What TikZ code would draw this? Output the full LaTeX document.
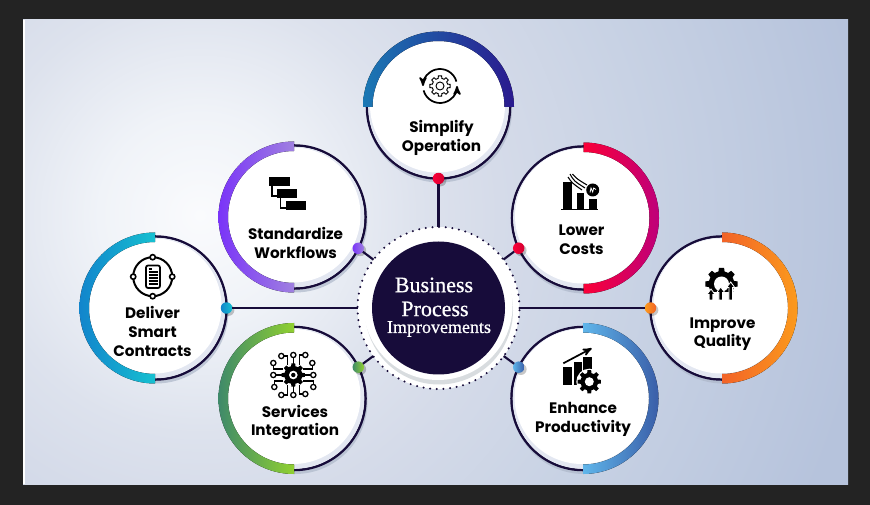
\documentclass[tikz,border=0pt]{standalone}
\usepackage{fontspec}
\usepackage{tikz}
\usetikzlibrary{arrows,shadows}
\newfontfamily\ringfont{Poppins}
\newfontfamily\hubfont[FakeBold=0.7]{Liberation Serif}
\definecolor{framegray}{HTML}{232323}
\definecolor{inkblue}{HTML}{170C3A}
\definecolor{paleface}{HTML}{E3E7F1}
\definecolor{ringshade}{HTML}{AEB8CA}
\definecolor{hubshade}{HTML}{D8DCDF}
\definecolor{glowa}{HTML}{FAFBFD}
\definecolor{glowb}{HTML}{F0F3F8}
\definecolor{glowc}{HTML}{DDE2ED}
\definecolor{glowd}{HTML}{D5DBE9}
\definecolor{glowe}{HTML}{C8D2E4}
\definecolor{glowf}{HTML}{B6C3DC}
\definecolor{simplifya}{HTML}{1A78B4}
\definecolor{simplifyb}{HTML}{2A1A8E}
\definecolor{costsa}{HTML}{FA0038}
\definecolor{costsb}{HTML}{BE007A}
\definecolor{qualitya}{HTML}{F26328}
\definecolor{qualityb}{HTML}{FB9A1C}
\definecolor{enhancea}{HTML}{5FB5EA}
\definecolor{enhanceb}{HTML}{3A5EA8}
\definecolor{workflowsa}{HTML}{7A35F8}
\definecolor{workflowsb}{HTML}{9F80E0}
\definecolor{contractsa}{HTML}{1285CC}
\definecolor{contractsb}{HTML}{16C0D0}
\definecolor{servicesa}{HTML}{3F8A6A}
\definecolor{servicesb}{HTML}{90D030}
\pgfdeclareradialshading{panelglow}{\pgfpoint{0bp}{0bp}}{
	color(0bp)=(glowa); color(3.5bp)=(glowb); color(7.6bp)=(glowc);
	color(10.4bp)=(glowd); color(15.5bp)=(glowe); color(23.3bp)=(glowf); color(50bp)=(glowf)}
\newcommand{\ringnode}[5]{
	\fill[ringshade,opacity=.7] #2 ++(1,3) circle (72.5);
	\node [ringdisc] (#1) at #2 {};
	\fill[paleface] #2 circle (70.3);
	\fill[white] #2 ++(-1,-2) circle (67.5);
	\fill[left color=#4,right color=#5] (#1.center) ++(#3:75.5) arc[start angle=#3,delta angle=180,radius=75.5] -- ++(#3:9.5) arc[start angle=#3+180,delta angle=-180,radius=66] -- cycle;
}
\newcommand{\gearpath}[4]{
	\path[#1,shift={#2}] (-22.5:#3) \foreach \a in {0,45,...,315} { -- (\a-14:#3) -- (\a-9:#4) -- (\a+9:#4) -- (\a+14:#3) -- (\a+22.5:#3)} -- cycle;
}
\begin{document}
\begin{tikzpicture}[x=0.75pt,y=-0.75pt,>=stealth']
		\tikzstyle{ringdisc}=[circle, draw=inkblue, fill=white, line width=1.9pt, minimum size=107.25pt, inner sep=0pt, outer sep=0pt]
		\tikzstyle{hubdisc}=[circle, draw=inkblue, fill=white, line width=1.7pt, line cap=round, dash pattern=on 0pt off 5pt, minimum size=121.5pt, inner sep=0pt, outer sep=0pt]
		\tikzstyle{ringdot}=[circle, minimum size=8.6pt, inner sep=0pt, outer sep=0pt, drop shadow={shadow xshift=1.6pt,shadow yshift=-1.6pt,fill=black,opacity=.22}]
		\tikzstyle{ringlabel}=[align=center, text=black, font=\ringfont\bfseries\fontsize{11.4}{13.9}\selectfont]
		\tikzstyle{hubtext}=[text=white, font=\hubfont\fontsize{16.5}{18}\selectfont]
		\tikzstyle{hubline}=[draw=inkblue, line width=1.6pt]
		\tikzstyle{iconline}=[draw=black, line width=1.3pt]
		\tikzstyle{iconthin}=[draw=black, line width=1pt]

		\fill[framegray] (0,0) rectangle (870,505);
		\begin{scope}
			\clip (23,20) rectangle (848,484);
			\shade[shading=panelglow] (200,215) circle (720);
			\fill[white] (23,20) rectangle (24.5,484);
		\end{scope}

		\node [hubdisc] (hub) at (438.5,308) {};
		\fill[hubshade] (439,310.5) circle (74);
		\fill[white] (438,305.5) circle (74.5);
		\node [circle, fill=inkblue, minimum size=99.75pt, inner sep=0pt] (hubcore) at (438.5,308) {};
		\node [hubtext] (hubone) at (434,285) {Business};
		\node [hubtext] (hubtwo) at (435,309) {Process};
		\node [hubtext, font=\hubfont\fontsize{13.5}{15}\selectfont] (hubthree) at (439,329) {Improvements};

		\ringnode{simplify}{(438.5,107)}{180}{simplifya}{simplifyb}
		\ringnode{costs}{(583.5,218)}{-90}{costsa}{costsb}
		\ringnode{quality}{(722,308)}{-90}{qualitya}{qualityb}
		\ringnode{enhance}{(583,398.5)}{-90}{enhancea}{enhanceb}
		\ringnode{workflows}{(294,217)}{90}{workflowsa}{workflowsb}
		\ringnode{contracts}{(155,308)}{90}{contractsa}{contractsb}
		\ringnode{services}{(294,398.5)}{90}{servicesa}{servicesb}

		\node [ringdot, left color=costsa, right color=costsa!85!black] (simplifydot) at (simplify.south) {};
		\node [ringdot, left color=costsa, right color=costsa!85!black] (costsdot) at (costs.205) {};
		\node [ringdot, left color=qualityb, right color=qualitya] (qualitydot) at (quality.west) {};
		\node [ringdot, left color=enhancea, right color=enhanceb] (enhancedot) at (enhance.154) {};
		\node [ringdot, left color=workflowsa, right color=workflowsb] (workflowsdot) at (workflows.-26) {};
		\node [ringdot, left color=contractsa, right color=contractsb] (contractsdot) at (contracts.east) {};
		\node [ringdot, left color=servicesa, right color=servicesb] (servicesdot) at (services.26) {};

		\foreach \d in {simplifydot,costsdot,qualitydot,enhancedot,workflowsdot,contractsdot,servicesdot}
			\draw[hubline] (\d) -- (hub);

		\node [ringlabel] (simplifytext) at (441.5,138) {Simplify\\Operation};
		\node [ringlabel] (coststext) at (581.5,239.5) {Lower\\Costs};
		\node [ringlabel] (qualitytext) at (722.5,334) {Improve\\Quality};
		\node [ringlabel] (enhancetext) at (583,419.5) {Enhance\\Productivity};
		\node [ringlabel] (workflowstext) at (295.5,243) {Standardize\\Workflows};
		\node [ringlabel] (contractstext) at (152.5,331.5) {Deliver\\Smart\\Contracts};
		\node [ringlabel] (servicestext) at (295,422.5) {Services\\Integration};

		\draw[iconline,->] (440,86) ++(-15:17) arc[start angle=-15,delta angle=-165,radius=17];
		\draw[iconline,->] (440,86) ++(165:17) arc[start angle=165,delta angle=-165,radius=17];
		\gearpath{draw=black,line width=.7pt,fill=white}{(440,86)}{7.8}{10.2}
		\draw[iconthin,line width=.7pt] (440,86) circle (4);

		\fill (563.3,182) rectangle (571.7,209.3);
		\fill (576.7,193.3) rectangle (584,209.3);
		\fill (588.7,199) rectangle (596.7,209.3);
		\draw[iconline] (561.3,209.5) -- (598.3,209.5);
		\draw[iconthin,line width=.8pt] (570,174) .. controls (574,181) .. (585,188);
		\draw[iconthin,line width=.8pt] (572.5,174) .. controls (577,179) .. (587,185);
		\draw[iconthin,line width=.8pt] (568,177) .. controls (572,183) .. (582,190);
		\fill (592.7,190) circle (6.5);
		\draw[draw=white,line width=.6pt] (590,192.5) -- (591,188) -- (592.7,192) -- (593.7,188) -- (596,189.5);

		\gearpath{fill=black}{(721.5,284)}{12.8}{16.3}
		\fill[white] (721.5,284) circle (7.5);
		\fill[white] (702,292) rectangle (742,303);
		\foreach \x/\t in {711/289,720.7/287,730.7/282}
			\filldraw[draw=white,fill=black,line width=.6pt] (\x-1.8,300) -- (\x-1.8,\t+5.5) -- (\x-4,\t+5.5) -- (\x,\t) -- (\x+4,\t+5.5) -- (\x+1.8,\t+5.5) -- (\x+1.8,300) -- cycle;

		\fill (563.3,366.7) rectangle (571.7,385);
		\fill (574,361.7) rectangle (581.7,385);
		\fill (583.3,356.7) rectangle (591.7,376);
		\draw[iconline,->] (563.3,363.3) -- (591.7,348.3);
		\fill[white] (589.3,381.7) circle (13);
		\gearpath{fill=black}{(589.3,381.7)}{8.8}{11.8}
		\fill[white] (589.3,381.7) circle (4.5);

		\draw[iconthin] (272,186) |- (276.7,196);
		\draw[iconthin] (280.5,198) |- (285.7,208);
		\fill (269,177) rectangle (290,186);
		\fill (276.7,189) rectangle (297.3,198);
		\fill (285.7,200.7) rectangle (306,210);

		\draw[draw=black,line width=1.5pt] (152.7,276.7) circle (19.5);
		\foreach \a in {0,90,180,270}
			\draw[iconthin,line width=1.2pt,fill=white] (152.7,276.7) ++(\a:19.5) circle (2.6);
		\draw[iconline,rounded corners=1.5pt] (146,265.5) rectangle (160,288);
		\foreach \y in {272,275,278,281,284}
			\draw[iconthin] (148.5,\y) -- (157.5,\y);
		\draw[iconthin] (148.5,269) -- (152,269);

		\foreach \a in {0,90,180,270} {
			\begin{scope}[shift={(293.3,375)},rotate=\a]
				\draw[iconthin] (0,-11) -- (0,-17.5);
				\draw[iconthin] (0,-20) circle (2.6);
				\draw[iconthin] (6,-10) -- (6,-20) -- (9.5,-20);
				\draw[iconthin] (12,-20) circle (2.6);
				\draw[iconthin] (-6,-10) -- (-6,-19) -- (-9.5,-19);
				\draw[iconthin] (-12,-19) circle (2.6);
			\end{scope}
		}
		\gearpath{fill=black}{(293.3,375)}{9}{11.8}
		\fill[white] (293.3,375) circle (4.3);
		\fill (293.3,375) circle (2.2);
	\end{tikzpicture}
\end{document}
